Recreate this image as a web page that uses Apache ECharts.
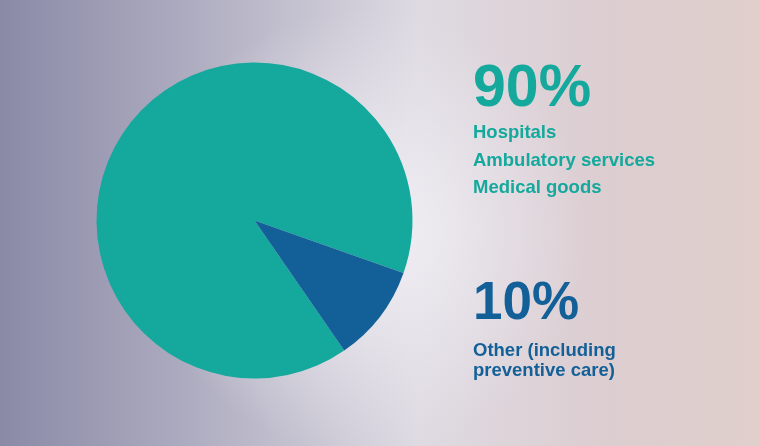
<!DOCTYPE html>
<html>
<head>
<meta charset="utf-8">
<script src="https://cdn.jsdelivr.net/npm/echarts@6/dist/echarts.min.js"></script>
<style>
html,body{margin:0;padding:0;}
#chart{width:760px;height:446px;}
</style>
</head>
<body>
<div id="chart"></div>
<script>
// Data
const categories = ['Hospitals, ambulatory services, medical goods', 'Other (including preventive care)'];
const values = [90, 10];
const bigLabels = ['90%', '10%'];
const group1Lines = ['Hospitals', 'Ambulatory services', 'Medical goods'];
const group2Lines = ['Other (including', 'preventive care)'];

const TEAL = '#14a99c';
const BLUE = '#135f98';
const FONT = '"Liberation Sans", Arial, sans-serif';

const chart = echarts.init(document.getElementById('chart'), null, {renderer: 'canvas'});

const graphics = [
  // background base
  {type: 'rect', z: -10, silent: true, shape: {x: 0, y: 0, width: 760, height: 446},
   style: {fill: new echarts.graphic.LinearGradient(0, 0, 1, 0, [
     {offset: 0, color: '#8a8aa7'},
     {offset: 0.25, color: '#aeacc0'},
     {offset: 0.55, color: '#dedae2'},
     {offset: 0.8, color: '#dccdd0'},
     {offset: 1, color: '#e0cfcb'}
   ])}},
  {type: 'rect', z: -9, silent: true, shape: {x: 0, y: 0, width: 760, height: 446},
   style: {fill: new echarts.graphic.RadialGradient(0.48, 0.52, 0.5, [
     {offset: 0, color: 'rgba(245,244,248,0.95)'},
     {offset: 0.5, color: 'rgba(238,236,242,0.55)'},
     {offset: 1, color: 'rgba(235,232,240,0)'}
   ])}}
];

const g1 = [
  {text: bigLabels[0], y: 90, size: 59, color: TEAL}
];
group1Lines.forEach((t, i) => g1.push({text: t, y: 133 + i * 27.7, size: 18.5, color: TEAL}));
g1.push({text: bigLabels[1], y: 304, size: 53, color: BLUE});
group2Lines.forEach((t, i) => g1.push({text: t, y: 351 + i * 19.5, size: 18.5, color: BLUE}));

g1.forEach(o => graphics.push({
  type: 'text', z: 10, silent: true,
  style: {x: 473, y: o.y, text: o.text, fill: o.color,
    font: 'bold ' + o.size + 'px ' + FONT, textAlign: 'left', textVerticalAlign: 'middle'}
}));

chart.setOption({
  animation: false,
  graphic: graphics,
  series: [{
    type: 'pie',
    center: [254.5, 220.5],
    radius: 158,
    startAngle: 304.6,
    clockwise: true,
    label: {show: false},
    labelLine: {show: false},
    emphasis: {disabled: true},
    itemStyle: {borderWidth: 0},
    data: categories.map((c, i) => ({name: c, value: values[i], itemStyle: {color: i === 0 ? TEAL : BLUE}}))
  }]
});
</script>
</body>
</html>
